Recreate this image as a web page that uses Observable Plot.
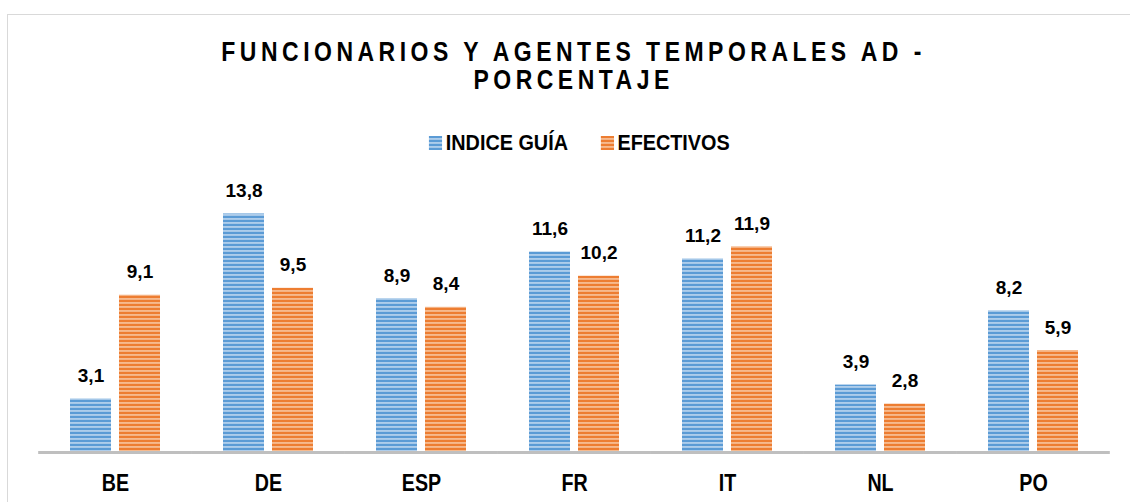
<!DOCTYPE html>
<html>
<head>
<meta charset="utf-8">
<script src="https://cdn.jsdelivr.net/npm/d3@7"></script>
<script src="https://cdn.jsdelivr.net/npm/@observablehq/plot@0.6"></script>
<style>
  body { margin: 0; background: #fff; }
  #wrap { position: relative; width: 1130px; height: 502px; overflow: hidden; background: #fff; }
  #frame { position: absolute; left: 7px; top: 14px; width: 1300px; height: 700px; border: 1.6px solid #d9d9d9; box-sizing: border-box; }
  #title { position: absolute; left: 0; top: 38px; width: 1130px; box-sizing: border-box; padding-left: 17px;
           text-align: center; }
  #title span { display: inline-block; transform: scaleX(0.82); transform-origin: 50% 50%;
           font-family: "Liberation Sans", Arial, sans-serif;
           font-weight: bold; font-size: 28px; line-height: 28px; letter-spacing: 5.5px; color: #000; }
  #legend { position: absolute; left: 0; top: 132px; width: 1130px; box-sizing: border-box; padding-left: 29px;
            display: flex; justify-content: center; }
  #legend .inner { display: flex; align-items: center; gap: 36px; transform: scaleX(0.9); transform-origin: 50% 50%;
            font-family: "Liberation Sans", Arial, sans-serif;
            font-weight: bold; font-size: 22px; line-height: 22px; color: #000; }
  #legend .item { display: flex; align-items: center; gap: 4px; }
  #chart { position: absolute; left: 0; top: 160px; }
</style>
</head>
<body>
<div id="wrap">
  <div id="frame"></div>
  <div id="title"><span>FUNCIONARIOS Y AGENTES TEMPORALES AD -<br>PORCENTAJE</span></div>
  <div id="legend"><div class="inner"></div></div>
  <div id="chart"></div>
</div>
<script>
const categories = ["BE", "DE", "ESP", "FR", "IT", "NL", "PO"];
const seriesNames = ["INDICE GUÍA", "EFECTIVOS"];
const indiceGuia = [3.1, 13.8, 8.9, 11.6, 11.2, 3.9, 8.2];
const efectivos = [9.1, 9.5, 8.4, 10.2, 11.9, 2.8, 5.9];

const patternIds = ["stripeBlue", "stripeOrange"];
const seriesFills = patternIds.map(id => `url(#${id})`);

const data = [];
categories.forEach((c, i) => {
  data.push({cat: c, series: seriesNames[0], value: indiceGuia[i]});
  data.push({cat: c, series: seriesNames[1], value: efectivos[i]});
});

const defsMarkup = `
  <pattern id="stripeBlue" patternUnits="userSpaceOnUse" width="8" height="4">
    <rect width="8" height="4" fill="#5b9bd5"/>
    <rect y="2.2" width="8" height="1.5" fill="#c3daf1"/>
  </pattern>
  <pattern id="stripeOrange" patternUnits="userSpaceOnUse" width="8" height="4">
    <rect width="8" height="4" fill="#ed7d31"/>
    <rect y="2.2" width="8" height="1.5" fill="#f9c9a5"/>
  </pattern>`;

const W = 1130, ML = 36, MR = 18;
const fxPadInner = 0.414, fxPadOuter = fxPadInner / 2;
// half of the gap between facets, so the baseline runs continuously across them
const fxStep = (W - ML - MR) / (categories.length - fxPadInner + 2 * fxPadOuter);
const halfGap = fxStep * fxPadInner / 2;

const chart = Plot.plot({
  width: W,
  height: 342,
  marginLeft: ML,
  marginRight: MR,
  marginTop: 50,
  marginBottom: 50,
  style: {background: "transparent", color: "#000"},
  fx: {domain: categories, paddingInner: fxPadInner, paddingOuter: fxPadOuter, label: null},
  x: {domain: seriesNames, paddingInner: 0.165, paddingOuter: 0, axis: null},
  y: {domain: [0, 14], axis: null},
  color: {domain: seriesNames, range: seriesFills},
  marks: [
    Plot.barY(data, {fx: "cat", x: "series", y: "value", fill: "series"}),
    Plot.ruleY([0], {stroke: "#bfbfbf", strokeWidth: 3, insetLeft: -halfGap, insetRight: -halfGap}),
    Plot.text(data, {fx: "cat", x: "series", y: "value",
      text: d => d.value.toFixed(1).replace(".", ","),
      dy: -23, fontSize: 19, fontWeight: "bold", fill: "#000",
      fontFamily: "'Liberation Sans', Arial, sans-serif"}),
    Plot.axisFx({anchor: "bottom", tickSize: 0, tickPadding: 21, label: null,
      fontSize: 24, fontWeight: "bold", fill: "#000",
      fontFamily: "'Liberation Sans', Arial, sans-serif"})
  ]
});

const defs = document.createElementNS("http://www.w3.org/2000/svg", "defs");
defs.innerHTML = defsMarkup;
chart.insertBefore(defs, chart.firstChild);
// narrow the category labels like the original condensed font
d3.select(chart).selectAll('g[aria-label="fx-axis tick label"] text').each(function() {
  const t = this.getAttribute("transform") || "";
  this.setAttribute("transform", t + " scale(0.82,1)");
});
document.getElementById("chart").appendChild(chart);

// legend
const legend = document.querySelector("#legend .inner");
seriesNames.forEach((name, i) => {
  const item = document.createElement("div");
  item.className = "item";
  item.innerHTML = `<svg width="15" height="14"><defs>${defsMarkup.replace(/id="(\w+)"/g, 'id="lg_$1"')}</defs><rect width="15" height="14" fill="url(#lg_${patternIds[i]})"/></svg><span>${name}</span>`;
  legend.appendChild(item);
});
</script>
</body>
</html>
